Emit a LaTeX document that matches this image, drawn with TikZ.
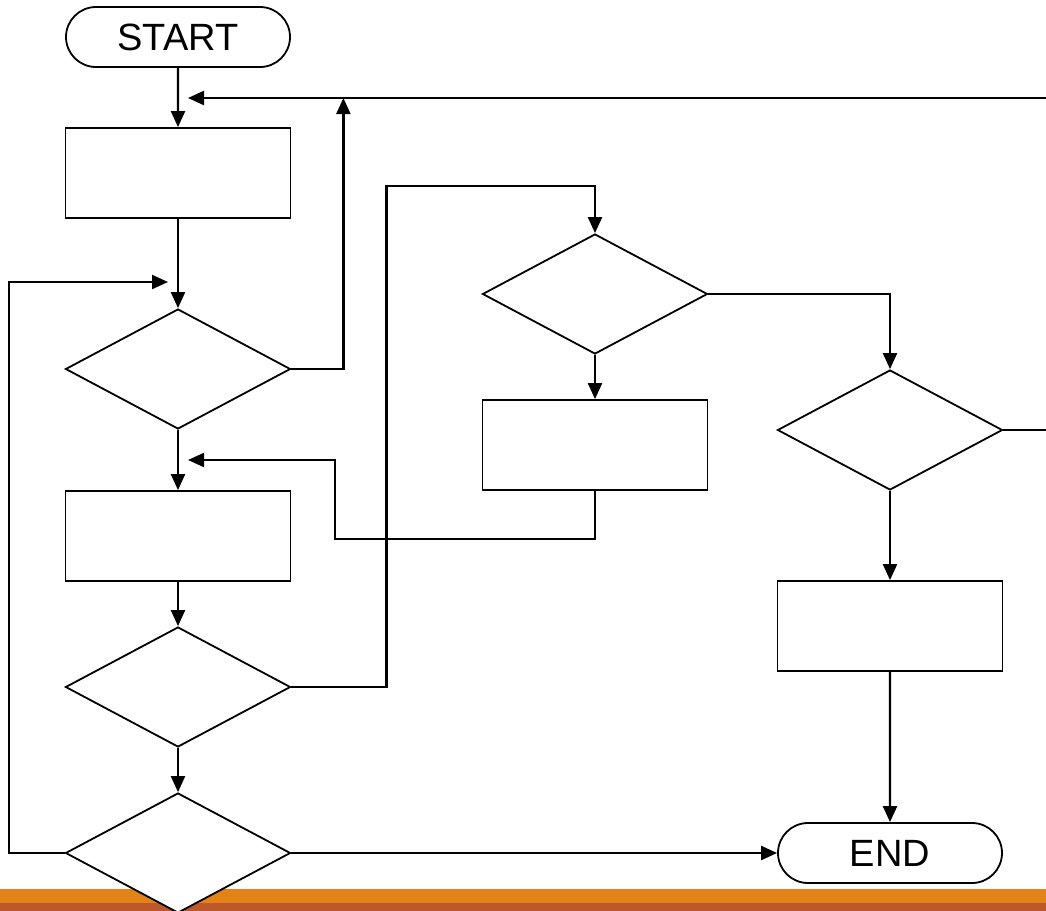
\documentclass[tikz,border=0pt]{standalone}
\usepackage{fontspec}
\setmainfont{Liberation Sans}
\usepackage{tikz}
\usetikzlibrary{shapes.geometric,shapes.misc,arrows.meta}
\definecolor{barorange}{RGB}{227,130,22}
\definecolor{barrust}{RGB}{189,88,45}
\begin{document}
\begin{tikzpicture}[x=0.5pt,y=-0.5pt,
			every node/.style = {draw, line width=0.9pt,
					fill=white, inner sep=0pt},
				proc/.style={rectangle, minimum width=112.5pt, minimum height=45pt},
				dec/.style={diamond, minimum width=112.5pt, minimum height=60pt},
				term/.style={rounded rectangle, minimum width=112pt, minimum height=30pt,
					font=\fontsize{19}{22}\selectfont},
				flow/.style={line width=1.1pt, -{Triangle[length=8pt,width=7pt]}},
				link/.style={line width=1.1pt}]
			\useasboundingbox (0,0) rectangle (1046,911);
			\fill[barorange] (0,889) rectangle (1046,903);
			\fill[barrust] (0,903) rectangle (1046,911);
			% left column
			\node[term] (start) at (178,37) {START};
			\node[proc] (p1) at (178,173) {};
			\node[dec] (d1) at (178,369) {};
			\node[proc] (p2) at (178,536) {};
			\node[dec] (d2) at (178,687) {};
			\node[dec] (d3) at (178,853) {};
			% middle and right
			\node[dec] (d4) at (595,294) {};
			\node[proc] (p3) at (595,445) {};
			\node[dec] (d5) at (890,430) {};
			\node[proc] (p4) at (890,626) {};
			\node[term] (stop) at (890,853) {END};
			\coordinate (r1) at (1046,98);
			\coordinate (r2) at (1046,430);
			\coordinate (j1) at (188,98);
			\coordinate (j2) at (168,282);
			\coordinate (j3) at (188,460);
			% connectors
			\draw[flow] (start) -- (p1);
			\draw[flow] (p1) -- (d1);
			\draw[flow] (d1) -- (p2);
			\draw[flow] (p2) -- (d2);
			\draw[flow] (d2) -- (d3);
			\draw[flow] (d1.east) -- ++(52,0) -- ++(0,-271);
			\draw[flow] (r1) -- (j1);
			\draw[flow] (d3.west) -- ++(-56,0) |- (j2);
			\draw[flow] (p3.south) -- ++(0,48) -- ++(-260,0) |- (j3);
			\draw[flow] (d2.east) -- ++(95,0) -- ++(0,-501) -| (d4.north);
			\draw[flow] (d4) -- (p3);
			\draw[flow] (d4.east) -| (d5.north);
			\draw[link] (d5.east) -- (r2);
			\draw[flow] (d5) -- (p4);
			\draw[flow] (p4) -- (stop);
			\draw[flow] (d3.east) -- (stop.west);
		\end{tikzpicture}
\end{document}
